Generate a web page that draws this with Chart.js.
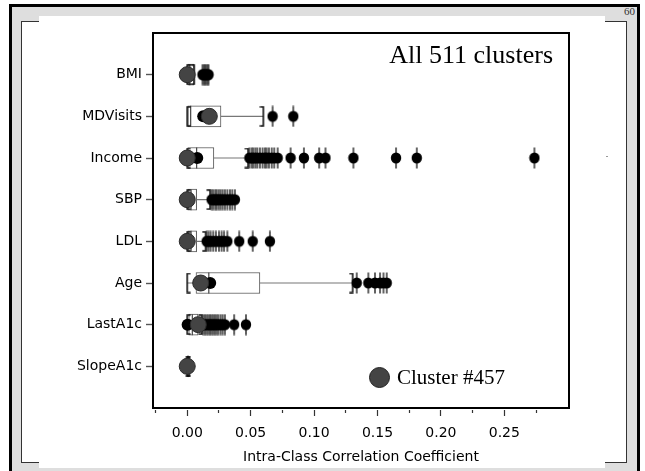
<!DOCTYPE html>
<html>
<head>
<meta charset="utf-8">
<script src="https://cdn.jsdelivr.net/npm/chart.js@4/dist/chart.umd.min.js"></script>
<style>
  html, body { margin: 0; padding: 0; background: #fff; }
  body { width: 645px; height: 471px; position: relative; overflow: hidden; }
  .abs { position: absolute; }
  #outer { left: 9px; top: 4px; width: 631px; height: 500px; box-sizing: border-box;
           border: 3px solid #000; border-bottom: none; background: #dedede; }
  #inner1 { left: 21px; top: 21px; width: 606px; height: 442px; box-sizing: border-box;
            border: 1px solid #333; background: #fff; }
  #inner2 { left: 39px; top: 16px; width: 566px; height: 452px; background: #fff; }
  #pageno { left: 624px; top: 5px; width: 13px; height: 14px; overflow: hidden;
            font: 11px "Liberation Serif", serif; color: #333; }
  #dash { left: 606px; top: 156px; width: 2px; height: 1px; background: #999; }
  #chartCanvas { left: 0; top: 0; }
  #ann { right: 92px; top: 42px; font: 26px/26px "Liberation Serif", serif; color: #000; white-space: nowrap; }
  #legDot { left: 369px; top: 367px; width: 21px; height: 21px; box-sizing: border-box; border-radius: 50%;
            background: #444; border: 1px solid #222; }
  #legText { left: 397px; top: 367px; font: 21px/21px "Liberation Serif", serif; color: #000; white-space: nowrap; }
</style>
</head>
<body>
<div id="outer" class="abs"></div>
<div id="inner1" class="abs"></div>
<div id="inner2" class="abs"></div>
<div id="pageno" class="abs">60</div>
<div id="dash" class="abs"></div>
<canvas id="chartCanvas" class="abs" width="645" height="471"></canvas>
<div id="ann" class="abs">All 511 clusters</div>
<div id="legDot" class="abs"></div>
<div id="legText" class="abs">Cluster #457</div>
<script>
// ---- data ----
const categories = ['BMI', 'MDVisits', 'Income', 'SBP', 'LDL', 'Age', 'LastA1c', 'SlopeA1c'];
const q1          = [0.0000, 0.0000, 0.0000, 0.0000, 0.0000, 0.0069, 0.0012, 0.0000];
const median      = [0.0020, 0.0027, 0.0074, 0.0030, 0.0030, 0.0170, 0.0040, 0.0004];
const q3          = [0.0053, 0.0266, 0.0210, 0.0074, 0.0074, 0.0573, 0.0085, 0.0012];
const whiskerLow  = [0.0000, 0.0000, 0.0000, 0.0000, 0.0000, 0.0000, 0.0000, 0.0000];
const whiskerHigh = [0.0055, 0.0600, 0.0480, 0.0180, 0.0145, 0.1304, 0.0115, 0.0015];
const means       = [null, 0.0126, 0.0079, null, null, 0.0181, 0.0003, null];
const cluster457  = [0.0000, 0.0174, 0.0000, 0.0000, 0.0000, 0.0106, 0.0087, 0.0000];
const outliersBMI      = [0.0120, 0.0130, 0.0140, 0.0150, 0.0160, 0.0168];
const outliersMDVisits = [0.0673, 0.0836];
const outliersIncome   = [0.0490, 0.0508, 0.0520, 0.0537, 0.0552, 0.0573, 0.0594, 0.0613, 0.0626, 0.0644,
                          0.0666, 0.0686, 0.0713, 0.0815, 0.0920, 0.1040, 0.1090, 0.1310, 0.1646, 0.1810, 0.2737];
const outliersSBP      = [0.0192, 0.0205, 0.0221, 0.0232, 0.0248, 0.0263, 0.0279, 0.0297, 0.0316, 0.0337, 0.0355, 0.0376];
const outliersLDL      = [0.0153, 0.0168, 0.0184, 0.0205, 0.0226, 0.0250, 0.0271, 0.0290, 0.0316, 0.0410, 0.0516, 0.0652];
const outliersAge      = [0.1336, 0.1428, 0.1480, 0.1520, 0.1547, 0.1573];
const outliersLastA1c  = [0.0126, 0.0140, 0.0153, 0.0166, 0.0179, 0.0192, 0.0205, 0.0218, 0.0232, 0.0245,
                          0.0263, 0.0279, 0.0297, 0.0370, 0.0463];
const outliersSlopeA1c = [];
const outliersByRow = [outliersBMI, outliersMDVisits, outliersIncome, outliersSBP, outliersLDL,
                       outliersAge, outliersLastA1c, outliersSlopeA1c];
const xTickValues = [-0.025, 0.000, 0.025, 0.050, 0.075, 0.100, 0.125, 0.150, 0.175, 0.200, 0.225, 0.250, 0.275];
const xTitle = 'Intra-Class Correlation Coefficient';

// ---- glyphs (marker shapes) ----
function outlierGlyph() {
  const c = document.createElement('canvas'); c.width = 12; c.height = 22;
  const g = c.getContext('2d');
  g.strokeStyle = '#222'; g.lineWidth = 1.4;
  g.beginPath(); g.moveTo(6, 0.5); g.lineTo(6, 21.5); g.stroke();
  g.fillStyle = '#000'; g.beginPath(); g.ellipse(6, 11, 5.2, 5.6, 0, 0, 2 * Math.PI); g.fill();
  return c;
}
function bracketGlyph(open) {
  const c = document.createElement('canvas'); c.width = 8; c.height = 21;
  const g = c.getContext('2d');
  g.strokeStyle = '#111'; g.lineWidth = 1.6;
  g.beginPath();
  const s = open ? 7.5 : 0.5;
  g.moveTo(s, 1); g.lineTo(4, 1); g.lineTo(4, 20); g.lineTo(s, 20);
  g.stroke();
  return c;
}

const rowY = i => i + 1;
const boxData = categories.map((c, i) => ({ x: [q1[i], q3[i]], y: rowY(i) }));
const medianData = categories.map((c, i) => ({ x: median[i], y: rowY(i) }));
const whiskerData = [];
categories.forEach((c, i) => {
  whiskerData.push({ x: whiskerLow[i], y: rowY(i) }, { x: q1[i], y: rowY(i) }, { x: null, y: null });
  whiskerData.push({ x: q3[i], y: rowY(i) }, { x: whiskerHigh[i], y: rowY(i) }, { x: null, y: null });
});
const lowBracketData = categories.map((c, i) => ({ x: whiskerLow[i], y: rowY(i) }));
const highBracketData = categories.map((c, i) => ({ x: whiskerHigh[i], y: rowY(i) }));
const outlierData = [];
outliersByRow.forEach((arr, i) => arr.forEach(v => outlierData.push({ x: v, y: rowY(i) })));
const meanData = [];
means.forEach((v, i) => { if (v !== null) meanData.push({ x: v, y: rowY(i) }); });
const clusterData = cluster457.map((v, i) => ({ x: v, y: rowY(i) }));

const frameBox = {
  id: 'frameBox',
  beforeDatasetsDraw(chart) {
    const { ctx, chartArea: a } = chart;
    ctx.save();
    ctx.strokeStyle = '#000'; ctx.lineWidth = 2;
    ctx.strokeRect(a.left, a.top, a.right - a.left, a.bottom - a.top);
    ctx.restore();
  }
};

const FONT = "'DejaVu Sans', sans-serif";
const isMajor = v => Math.round(v * 1000) % 50 === 0;

new Chart(document.getElementById('chartCanvas'), {
  type: 'scatter',
  data: {
    datasets: [
      { type: 'scatter', label: 'Cluster #457', data: clusterData, order: 0,
        pointRadius: 8, pointBackgroundColor: '#444', pointBorderColor: '#2a2a2a', pointBorderWidth: 1 },
      { type: 'scatter', label: 'Mean', data: meanData, order: 1,
        pointRadius: 6, pointBackgroundColor: '#000', pointBorderColor: '#000', pointBorderWidth: 0 },
      { type: 'scatter', label: 'Outliers', data: outlierData, order: 2,
        pointStyle: outlierGlyph() },
      { type: 'scatter', label: 'Whisker low', data: lowBracketData, order: 3,
        pointStyle: bracketGlyph(true) },
      { type: 'scatter', label: 'Whisker high', data: highBracketData, order: 3,
        pointStyle: bracketGlyph(false) },
      { type: 'scatter', label: 'Median', data: medianData, order: 4,
        pointStyle: 'line', rotation: 90, pointRadius: 10.5, pointBorderColor: '#444', pointBorderWidth: 1.2 },
      { type: 'scatter', label: 'Whiskers', data: whiskerData, order: 5, showLine: true, spanGaps: false,
        borderColor: '#777', borderWidth: 1.2, pointRadius: 0 },
      { type: 'bar', label: 'IQR', data: boxData, order: 6, indexAxis: 'y',
        barThickness: 21, backgroundColor: '#fff', borderColor: '#555', borderWidth: 1, borderSkipped: false }
    ]
  },
  options: {
    responsive: false,
    animation: false,
    devicePixelRatio: 1,
    layout: { padding: { top: 33, right: 76, left: 0, bottom: 0 } },
    plugins: { legend: { display: false }, tooltip: { enabled: false } },
    scales: {
      x: {
        type: 'linear', min: -0.027, max: 0.301, offset: false,
        afterBuildTicks: s => { s.ticks = xTickValues.map(v => ({ value: v })); },
        afterFit: s => { s.height = 63; },
        border: { display: false },
        grid: { offset: false, drawOnChartArea: false, drawTicks: true, tickLength: 8, color: '#333', tickWidth: 1.2,
                tickBorderDash: ctx => (ctx.tick && isMajor(ctx.tick.value)) ? [0, 2, 6, 100] : [0, 2, 3, 100] },
        ticks: { autoSkip: false, maxRotation: 0, padding: 9, color: '#000', font: { family: FONT, size: 14 },
                 callback: v => (isMajor(v) && v >= 0) ? v.toFixed(2) : '' },
        title: { display: true, text: xTitle, color: '#000', font: { family: FONT, size: 14 },
                 padding: { top: 2, bottom: 5 } }
      },
      y: {
        type: 'linear', min: 0, max: 9, reverse: true, offset: false,
        afterBuildTicks: s => { s.ticks = categories.map((c, i) => ({ value: rowY(i) })); },
        afterFit: s => { s.width = 153; },
        border: { display: false },
        grid: { display: true, offset: false, drawOnChartArea: false, drawTicks: true, tickLength: 7,
                color: '#555', tickColor: '#555', tickWidth: 1.4 },
        ticks: { autoSkip: false, padding: 4, color: '#000', font: { family: FONT, size: 14 },
                 callback: v => categories[v - 1] || '' }
      }
    }
  },
  plugins: [frameBox]
});
</script>
</body>
</html>
